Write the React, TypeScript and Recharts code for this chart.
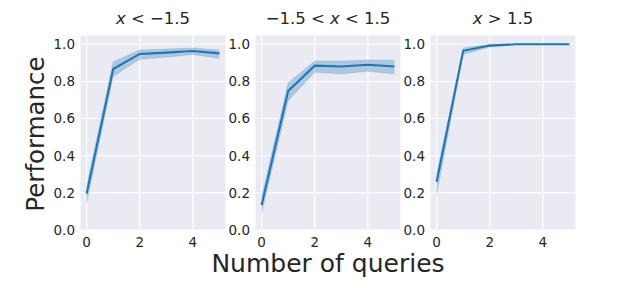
import React from 'react';
import { ComposedChart, Line, Area, XAxis, YAxis, CartesianGrid } from 'recharts';

const queries = [0, 1, 2, 3, 4, 5];

const leftMean = [0.195, 0.867, 0.948, 0.955, 0.964, 0.951];
const leftLow = [0.145, 0.826, 0.919, 0.93, 0.945, 0.924];
const leftHigh = [0.24, 0.906, 0.969, 0.975, 0.98, 0.969];

const midMean = [0.135, 0.748, 0.885, 0.88, 0.89, 0.88];
const midLow = [0.09, 0.695, 0.849, 0.84, 0.855, 0.84];
const midHigh = [0.18, 0.793, 0.91, 0.91, 0.915, 0.915];

const rightMean = [0.26, 0.965, 0.993, 1.0, 1.0, 1.0];
const rightLow = [0.19, 0.945, 0.985, 1.0, 1.0, 1.0];
const rightHigh = [0.3, 0.98, 1.0, 1.0, 1.0, 1.0];

const xTicks = [0, 2, 4];
const yTicks = [0, 0.2, 0.4, 0.6, 0.8, 1.0];

const FONT = '"DejaVu Sans", sans-serif';
const TEXT = '#262626';
const BLUE = '#1f77b4';

const PLOT_TOP = 35;
const PLOT_BOTTOM = 230;
const PLOT_W = 146;
const Y_AXIS_W = 50;
const X_AXIS_H = 30;
const H = 288;

function build(mean: number[], low: number[], high: number[]) {
  return queries.map((q, i) => ({ q, mean: mean[i], band: [low[i], high[i]] }));
}

const panels = [
  { left: 80, data: build(leftMean, leftLow, leftHigh), title: 'left' },
  { left: 255, data: build(midMean, midLow, midHigh), title: 'mid' },
  { left: 430, data: build(rightMean, rightLow, rightHigh), title: 'right' },
];

function Panel({ left, data }: { left: number; data: any[] }) {
  return (
    <div style={{ position: 'absolute', left: left - Y_AXIS_W, top: 0 }}>
      <ComposedChart
        width={Y_AXIS_W + PLOT_W}
        height={H}
        data={data}
        margin={{ top: PLOT_TOP, right: 0, bottom: H - PLOT_BOTTOM - X_AXIS_H, left: 0 }}
      >
        <CartesianGrid fill="#eaeaf2" stroke="#ffffff" strokeWidth={1.1} fillOpacity={1} />
        <XAxis
          type="number"
          dataKey="q"
          domain={[-0.25, 5.25]}
          ticks={xTicks}
          allowDataOverflow
          axisLine={false}
          tickLine={false}
          tickSize={0}
          tickMargin={7}
          height={X_AXIS_H}
          interval={0}
          tick={{ fill: TEXT, fontSize: 13.5, fontFamily: FONT }}
        />
        <YAxis
          type="number"
          domain={[0, 1.05]}
          ticks={yTicks}
          allowDataOverflow
          axisLine={false}
          tickLine={false}
          tickSize={0}
          tickMargin={5}
          width={Y_AXIS_W}
          interval={0}
          tickFormatter={(v: number) => v.toFixed(1)}
          tick={{ fill: TEXT, fontSize: 13.5, fontFamily: FONT }}
        />
        <Area
          type="linear"
          dataKey="band"
          stroke={BLUE}
          strokeOpacity={0.15}
          strokeWidth={1}
          fill={BLUE}
          fillOpacity={0.3}
          isAnimationActive={false}
          activeDot={false}
        />
        <Line
          type="linear"
          dataKey="mean"
          stroke={BLUE}
          strokeWidth={2.1}
          dot={false}
          activeDot={false}
          isAnimationActive={false}
        />
      </ComposedChart>
    </div>
  );
}

const titleStyle = (cx: number): React.CSSProperties => ({
  position: 'absolute',
  left: cx - 100,
  width: 200,
  top: 9,
  textAlign: 'center',
  fontFamily: FONT,
  fontSize: 16.5,
  color: TEXT,
  lineHeight: '20px',
  whiteSpace: 'pre',
});

const X = () => <span style={{ fontStyle: 'italic' }}>x</span>;

export default function App() {
  return (
    <div style={{ position: 'absolute', left: 0, top: 0, width: 640, height: 288, background: '#fff', overflow: 'hidden' }}>
      {panels.map((p) => (
        <Panel key={p.title} left={p.left} data={p.data} />
      ))}
      <div style={titleStyle(80 + PLOT_W / 2)}>
        <X />{' < \u22121.5'}
      </div>
      <div style={titleStyle(255 + PLOT_W / 2)}>
        {'\u22121.5 < '}<X />{' < 1.5'}
      </div>
      <div style={titleStyle(430 + PLOT_W / 2)}>
        <X />{' > 1.5'}
      </div>
      <div
        style={{
          position: 'absolute',
          left: 128,
          width: 400,
          top: 255,
          height: 18,
          textAlign: 'center',
          fontFamily: FONT,
          fontSize: 25,
          lineHeight: '18px',
          color: TEXT,
          whiteSpace: 'pre',
        }}
      >
        Number of queries
      </div>
      <div
        style={{
          position: 'absolute',
          left: 36 - 100,
          top: 134 - 9,
          width: 200,
          height: 18,
          textAlign: 'center',
          fontFamily: FONT,
          fontSize: 24.5,
          lineHeight: '18px',
          color: TEXT,
          whiteSpace: 'pre',
          transform: 'rotate(-90deg)',
          transformOrigin: '100px 9px',
        }}
      >
        Performance
      </div>
    </div>
  );
}
